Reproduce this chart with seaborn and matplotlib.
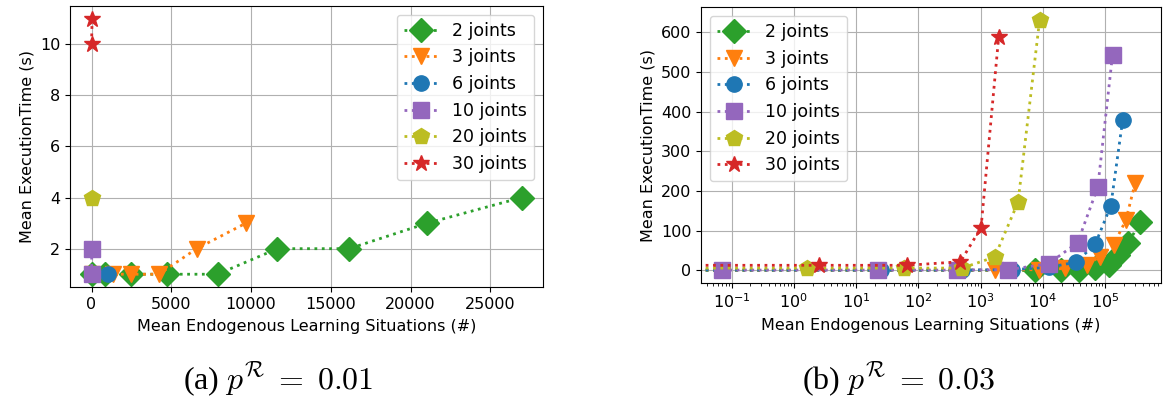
import numpy as np
import pandas as pd
import matplotlib
matplotlib.use("Agg")
import matplotlib.pyplot as plt
import seaborn as sns

labels = ["2 joints", "3 joints", "6 joints", "10 joints", "20 joints", "30 joints"]
colors = ["#2ca02c", "#ff7f0e", "#1f77b4", "#9467bd", "#bcbd22", "#d62728"]
markers = ["D", "v", "o", "s", "p", "*"]

# (a) p^R = 0.01 (linear x)
a_x_2 = [0, 860, 2450, 4740, 7900, 11650, 16150, 21050, 26950]
a_y_2 = [1, 1, 1, 1, 1, 2, 2, 3, 4]
a_x_3 = [0, 1340, 2450, 4220, 6590, 9680]
a_y_3 = [1, 1, 1, 1, 2, 3]
a_x_6 = [0, 1030]
a_y_6 = [1, 1]
a_x_10 = [0, 20]
a_y_10 = [1, 2]
a_x_20 = [0]
a_y_20 = [4]
a_x_30 = [40, 0]
a_y_30 = [11, 10]

# (b) p^R = 0.03 (log x)
b_x_2 = [0, 7370, 19700, 37300, 69000, 113000, 163000, 234000, 363000]
b_y_2 = [1, 0, 1, 2, 5, 15, 40, 69, 121]
b_x_3 = [0, 1725, 8500, 23000, 50700, 83000, 136000, 214000, 302000]
b_y_3 = [4, 1, 2, 5, 15, 35, 65, 126, 220]
b_x_6 = [0, 25, 505, 3200, 12500, 34000, 69000, 123000, 191000]
b_y_6 = [1, 1, 1, 2, 8, 21, 66, 163, 380]
b_x_10 = [0.07, 22.7, 419, 2770, 12300, 36000, 76000, 131000]
b_y_10 = [1, 1, 1, 2, 17, 70, 210, 543]
b_x_20 = [0, 1.65, 58.6, 505, 1683, 3980, 8850]
b_y_20 = [6, 6, 6, 6, 34, 172, 631]
b_x_30 = [0, 2.54, 66, 474, 1014, 1950]
b_y_30 = [13, 13, 13, 22, 108, 589]

xlabel = "Mean Endogenous Learning Situations (#)"
ylabel = "Mean ExecutionTime (s)"
caption_a = r"(a) $p^{\mathcal{R}}\;=\;0.01$"
caption_b = r"(b) $p^{\mathcal{R}}\;=\;0.03$"

FS = 11.5
plt.rcParams.update({
    "font.family": ["DejaVu Sans"],
    "mathtext.fontset": "cm",
    "axes.grid": True,
    "grid.color": "#b0b0b0",
    "grid.linewidth": 0.8,
})

fig = plt.figure(figsize=(11.67, 4.0), dpi=100)
ax_a = fig.add_axes([70 / 1167, 1 - 287 / 400, (543 - 70) / 1167, (287 - 6) / 400])
ax_b = fig.add_axes([701 / 1167, 1 - 283 / 400, (1161 - 701) / 1167, (283 - 7.3) / 400])

series_a = [(a_x_2, a_y_2), (a_x_3, a_y_3), (a_x_6, a_y_6),
            (a_x_10, a_y_10), (a_x_20, a_y_20), (a_x_30, a_y_30)]
series_b = [(b_x_2, b_y_2), (b_x_3, b_y_3), (b_x_6, b_y_6),
            (b_x_10, b_y_10), (b_x_20, b_y_20), (b_x_30, b_y_30)]

msizes = {"D": 12, "v": 12, "o": 11, "s": 12, "p": 12, "*": 12}

def draw(ax, series):
    for (xs, ys), lab, col, mk in zip(series, labels, colors, markers):
        sns.lineplot(x=np.array(xs, dtype=float), y=np.array(ys, dtype=float),
                     ax=ax, color=col, marker=mk, linestyle=":", linewidth=2,
                     markersize=msizes[mk], markeredgecolor=col, markeredgewidth=1,
                     estimator=None, sort=False, label=lab)

draw(ax_a, series_a)
draw(ax_b, series_b)
ax_b.set_xscale("log")

for ax in (ax_a, ax_b):
    ax.set_xlabel(xlabel, fontsize=FS, labelpad=5)
    ax.set_ylabel(ylabel, fontsize=FS)
    ax.tick_params(labelsize=FS)
    ax.grid(True, which="major", color="#b0b0b0", linewidth=0.8)
    for s in ax.spines.values():
        s.set_color("black")

ax_a.set_yticks([2, 4, 6, 8, 10])
ax_b.set_yticks([0, 100, 200, 300, 400, 500, 600])
ax_b.set_xticks([1e-1, 1e0, 1e1, 1e2, 1e3, 1e4, 1e5])

ax_a.legend(loc="upper right", fontsize=12.5, handlelength=2.0)
ax_b.legend(loc="upper left", fontsize=12.5, handlelength=2.0)

fig.text(278 / 1167, 1 - 380 / 400, caption_a, ha="center", va="center",
         fontsize=23, family="Liberation Serif")
fig.text(899 / 1167, 1 - 380 / 400, caption_b, ha="center", va="center",
         fontsize=23, family="Liberation Serif")

fig.savefig("out.png", dpi=100)
